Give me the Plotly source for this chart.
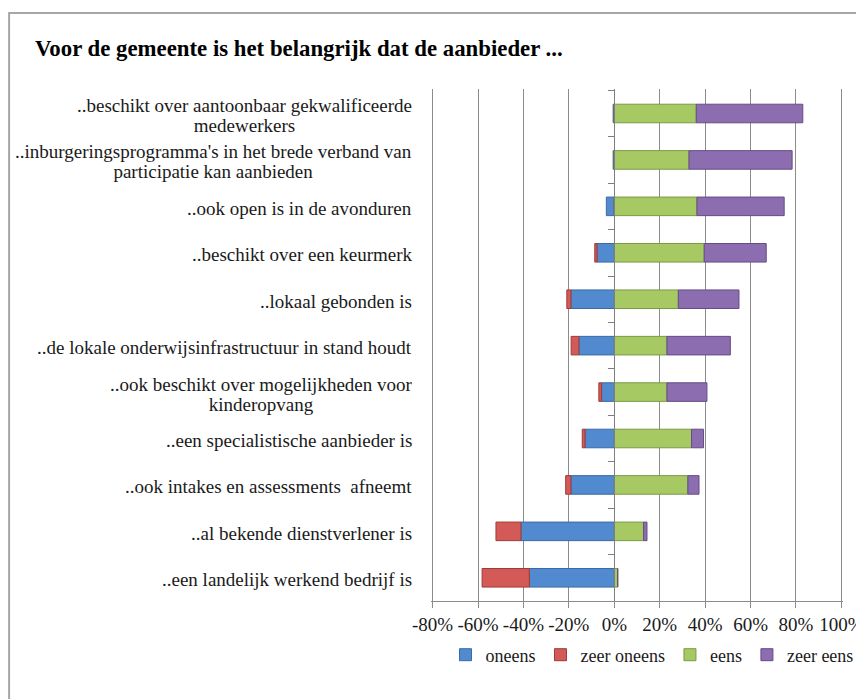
import plotly.graph_objects as go

categories = [
    "..beschikt over aantoonbaar gekwalificeerde<br>medewerkers",
    "..inburgeringsprogramma's in het brede verband van<br>participatie kan aanbieden",
    "..ook open is in de avonduren",
    "..beschikt over een keurmerk",
    "..lokaal gebonden is",
    "..de lokale onderwijsinfrastructuur in stand houdt",
    "..ook beschikt over mogelijkheden voor<br>kinderopvang",
    "..een specialistische aanbieder is",
    "..ook intakes en assessments  afneemt",
    "..al bekende dienstverlener is",
    "..een landelijk werkend bedrijf is",
]

oneens = [-0.5, -0.5, -3.5, -7.6, -19.1, -15.6, -5.6, -12.9, -19.1, -41.1, -37.4]
zeer_oneens = [0, 0, 0, -1.0, -1.8, -3.4, -1.2, -1.2, -2.3, -11.0, -20.8]
eens = [36.1, 32.9, 36.4, 39.6, 28.2, 23.2, 23.2, 34.0, 32.4, 12.9, 1.5]
zeer_eens = [46.9, 45.4, 38.4, 27.3, 26.7, 27.9, 17.6, 5.3, 4.9, 1.5, 0]

tick_vals = [-80, -60, -40, -20, 0, 20, 40, 60, 80, 100]
tick_text = ["-80%", "-60%", "-40%", "-20%", "0%", "20%", "40%", "60%", "80%", "100%"]

series = [
    ("oneens", oneens, "#528ad0", "#3b6aa5"),
    ("zeer oneens", zeer_oneens, "#d45a57", "#9c3b38"),
    ("eens", eens, "#a6c964", "#7a9a43"),
    ("zeer eens", zeer_eens, "#8c6db0", "#654c85"),
]

SERIF = "Liberation Serif"
PAD = 0.7  # small range padding so the -80% and 100% gridlines are drawn

fig = go.Figure()
for name, vals, col, edge in series:
    fig.add_trace(go.Bar(
        y=categories, x=vals, name=name, orientation="h",
        marker=dict(color=col, line=dict(color=edge, width=1)),
    ))

# page has an 8px body margin, so the figure is placed in figure pixels
W, H = 856, 691
L, R, T, B = 423.1, 20.7, 81, 98.3
pw, ph = W - L - R, H - T - B

# category labels as centred multi-line annotations; small base size keeps line spacing tight
for cat in categories:
    fig.add_annotation(
        xref="paper", yref="y", x=(406 - L) / pw, y=cat, yshift=-2,
        text='<span style="font-size:19px">' + cat.replace("<br>", '</span><br><span style="font-size:19px">') + "</span>",
        showarrow=False, xanchor="right", align="center",
        font=dict(family=SERIF, size=15, color="#1a1a1a"),
    )

# outer chart border (top and left visible)
fig.add_shape(
    type="rect", xref="paper", yref="paper",
    x0=(1 - L) / pw, x1=1.2, y0=-0.4, y1=(H - B - 5) / ph,
    line=dict(color="#a6a6a6", width=2), layer="below",
)

fig.update_layout(
    barmode="relative",
    bargap=0.6,
    width=W, height=H,
    margin=dict(l=L, r=R, t=T, b=B, autoexpand=False),
    plot_bgcolor="white", paper_bgcolor="white",
    font=dict(family=SERIF, size=19, color="#1a1a1a"),
    title=dict(
        text="<b>Voor de gemeente is het belangrijk dat de aanbieder ...</b>",
        x=27 / W, xanchor="left", y=1 - 40 / H, yanchor="middle",
        font=dict(family=SERIF, size=22.8, color="black"),
    ),
    legend=dict(
        orientation="h", xref="container", yref="container",
        x=644 / W, xanchor="center", y=1 - 647 / H, yanchor="middle",
        font=dict(family=SERIF, size=18), itemwidth=30, traceorder="normal",
    ),
    showlegend=True,
)

fig.update_xaxes(
    range=[-80 - PAD, 100 + PAD], tickvals=tick_vals, ticktext=tick_text, automargin=False,
    showgrid=True, gridcolor="#8c8c8c", gridwidth=1,
    zeroline=False, showline=True, linecolor="#8c8c8c", linewidth=1,
    ticks="outside", ticklen=6, tickcolor="#8c8c8c",
    tickfont=dict(family=SERIF, size=19, color="#1a1a1a"),
    ticklabeloverflow="allow",
)
fig.update_yaxes(
    categoryorder="array", categoryarray=categories, autorange="reversed",
    showticklabels=False, showgrid=False, zeroline=False, automargin=False,
    anchor="free", position=(80 + PAD) / (180 + 2 * PAD),
    showline=True, linecolor="#7f7f7f", linewidth=1,
    ticks="outside", ticklen=6, tickcolor="#7f7f7f", tickson="boundaries",
)

fig.write_html("out.html")
